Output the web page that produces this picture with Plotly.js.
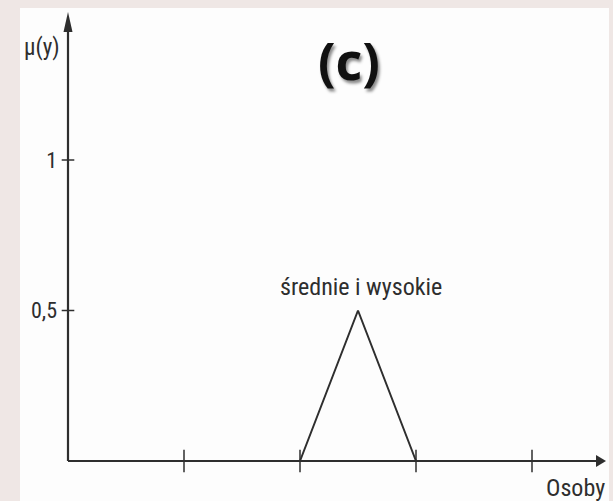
<!DOCTYPE html>
<html>
<head>
<meta charset="utf-8">
<script src="https://cdn.plot.ly/plotly-3.0.1.min.js"></script>
<style>
  html, body { margin: 0; padding: 0; background: #efe7e5; }
  #chart { width: 613px; height: 501px; }
</style>
</head>
<body>
<div id="chart"></div>
<script>
// Membership function "średnie i wysokie" over the number of people
const fuzzyX = [2, 2.5, 3];
const fuzzyMu = [0, 0.5, 0];
const setLabel = 'średnie i wysokie';

// Axis ticks and labels
const xTickVals = [1, 2, 3, 4];
const yTickVals = [0.5, 1];
const yTickText = ['0,5', '1'];
const xAxisLabel = 'Osoby';
const yAxisLabel = 'μ(y)';
const panelLabel = '(c)';

const ink = '#2e2e2e';
const textFont = 'Liberation Sans Narrow, Arial Narrow, Roboto Condensed, Liberation Sans, sans-serif';

// Scale of the drawing (pixels per unit) and margins around the plot area
const pxX = 116, pxY = 301;
const M = { l: 58, r: 0, t: 0, b: 30 };
const plotW = 613 - M.l - M.r, plotH = 501 - M.t - M.b;
const pad = 10; // room below / left of the origin so axis lines are not clipped

// Where the arrow-tipped axes end
const xAxisEnd = 4.638;
const yAxisEnd = 1.4917;
const arrowX = { len: 10 / pxX, half: 6 / pxY };
const arrowY = { len: 20 / pxY, half: 4.5 / pxX };

// paper-fraction helpers for items placed outside the axes
const paperX = px => (px - M.l) / plotW;
const paperY = py => (M.t + plotH - py) / plotH;

const traces = [
  {
    x: fuzzyX, y: fuzzyMu, type: 'scatter', mode: 'lines',
    line: { color: ink, width: 2 }, hoverinfo: 'skip', cliponaxis: false
  },
  {
    // tick marks crossing the horizontal axis
    x: xTickVals, y: xTickVals.map(() => 0), type: 'scatter', mode: 'markers',
    marker: { symbol: 'line-ns', size: 16, line: { color: ink, width: 1.5 } },
    hoverinfo: 'skip', cliponaxis: false
  },
  {
    // tick marks crossing the vertical axis
    x: yTickVals.map(() => 0), y: yTickVals, type: 'scatter', mode: 'markers',
    marker: { symbol: 'line-ew', size: 9, line: { color: ink, width: 1.5 } },
    hoverinfo: 'skip', cliponaxis: false
  }
];

const layout = {
  width: 613, height: 501,
  margin: M,
  paper_bgcolor: '#efe7e5',
  plot_bgcolor: 'rgba(0,0,0,0)',
  showlegend: false,
  xaxis: {
    range: [-pad / pxX, (plotW - pad) / pxX], showgrid: false, zeroline: false, showline: false,
    showticklabels: false, ticks: '', fixedrange: true
  },
  yaxis: {
    range: [-pad / pxY, (plotH - pad) / pxY], showgrid: false, zeroline: false, showline: false,
    tickvals: yTickVals, ticktext: yTickText, ticks: '', ticklabelstandoff: 0,
    tickfont: { family: textFont, size: 22, color: ink }, fixedrange: true
  },
  shapes: [
    // white sheet behind the diagram
    { type: 'rect', xref: 'paper', yref: 'paper', x0: paperX(20), x1: paperX(609), y0: paperY(510), y1: paperY(8),
      fillcolor: '#fdfdfd', line: { width: 0 }, layer: 'below' },
    // axes
    { type: 'line', xref: 'x', yref: 'y', x0: 0, y0: 0, x1: xAxisEnd - arrowX.len, y1: 0,
      line: { color: ink, width: 2.2 } },
    { type: 'line', xref: 'x', yref: 'y', x0: 0, y0: 0, x1: 0, y1: yAxisEnd - arrowY.len,
      line: { color: ink, width: 2.2 } },
    // arrowheads
    { type: 'path', xref: 'x', yref: 'y',
      path: `M${xAxisEnd},0 L${xAxisEnd - arrowX.len},${arrowX.half} L${xAxisEnd - arrowX.len},${-arrowX.half} Z`,
      fillcolor: ink, line: { width: 0 } },
    { type: 'path', xref: 'x', yref: 'y',
      path: `M0,${yAxisEnd} L${-arrowY.half},${yAxisEnd - arrowY.len} L${arrowY.half},${yAxisEnd - arrowY.len} Z`,
      fillcolor: ink, line: { width: 0 } }
  ],
  annotations: [
    { x: 2.5, y: 0.5, xref: 'x', yref: 'y', text: setLabel, showarrow: false,
      xanchor: 'center', yanchor: 'bottom', xshift: 3, yshift: 8,
      font: { family: textFont, size: 24, color: ink } },
    { x: paperX(42), y: paperY(48), xref: 'paper', yref: 'paper', text: yAxisLabel, showarrow: false,
      xanchor: 'center', yanchor: 'middle',
      font: { family: textFont, size: 23, color: ink } },
    { x: paperX(575), y: paperY(488), xref: 'paper', yref: 'paper', text: xAxisLabel, showarrow: false,
      xanchor: 'center', yanchor: 'middle',
      font: { family: textFont, size: 24, color: ink } },
    { x: 2.422, y: 1.335, xref: 'x', yref: 'y', text: '<b>' + panelLabel + '</b>', showarrow: false,
      xanchor: 'center', yanchor: 'middle',
      font: { family: 'Open Sans, Lato, sans-serif', size: 52, color: '#111',
              shadow: '2px 3px 3px rgba(0,0,0,0.45)' } }
  ]
};

Plotly.newPlot('chart', traces, layout, { staticPlot: true, displayModeBar: false });
</script>
</body>
</html>
